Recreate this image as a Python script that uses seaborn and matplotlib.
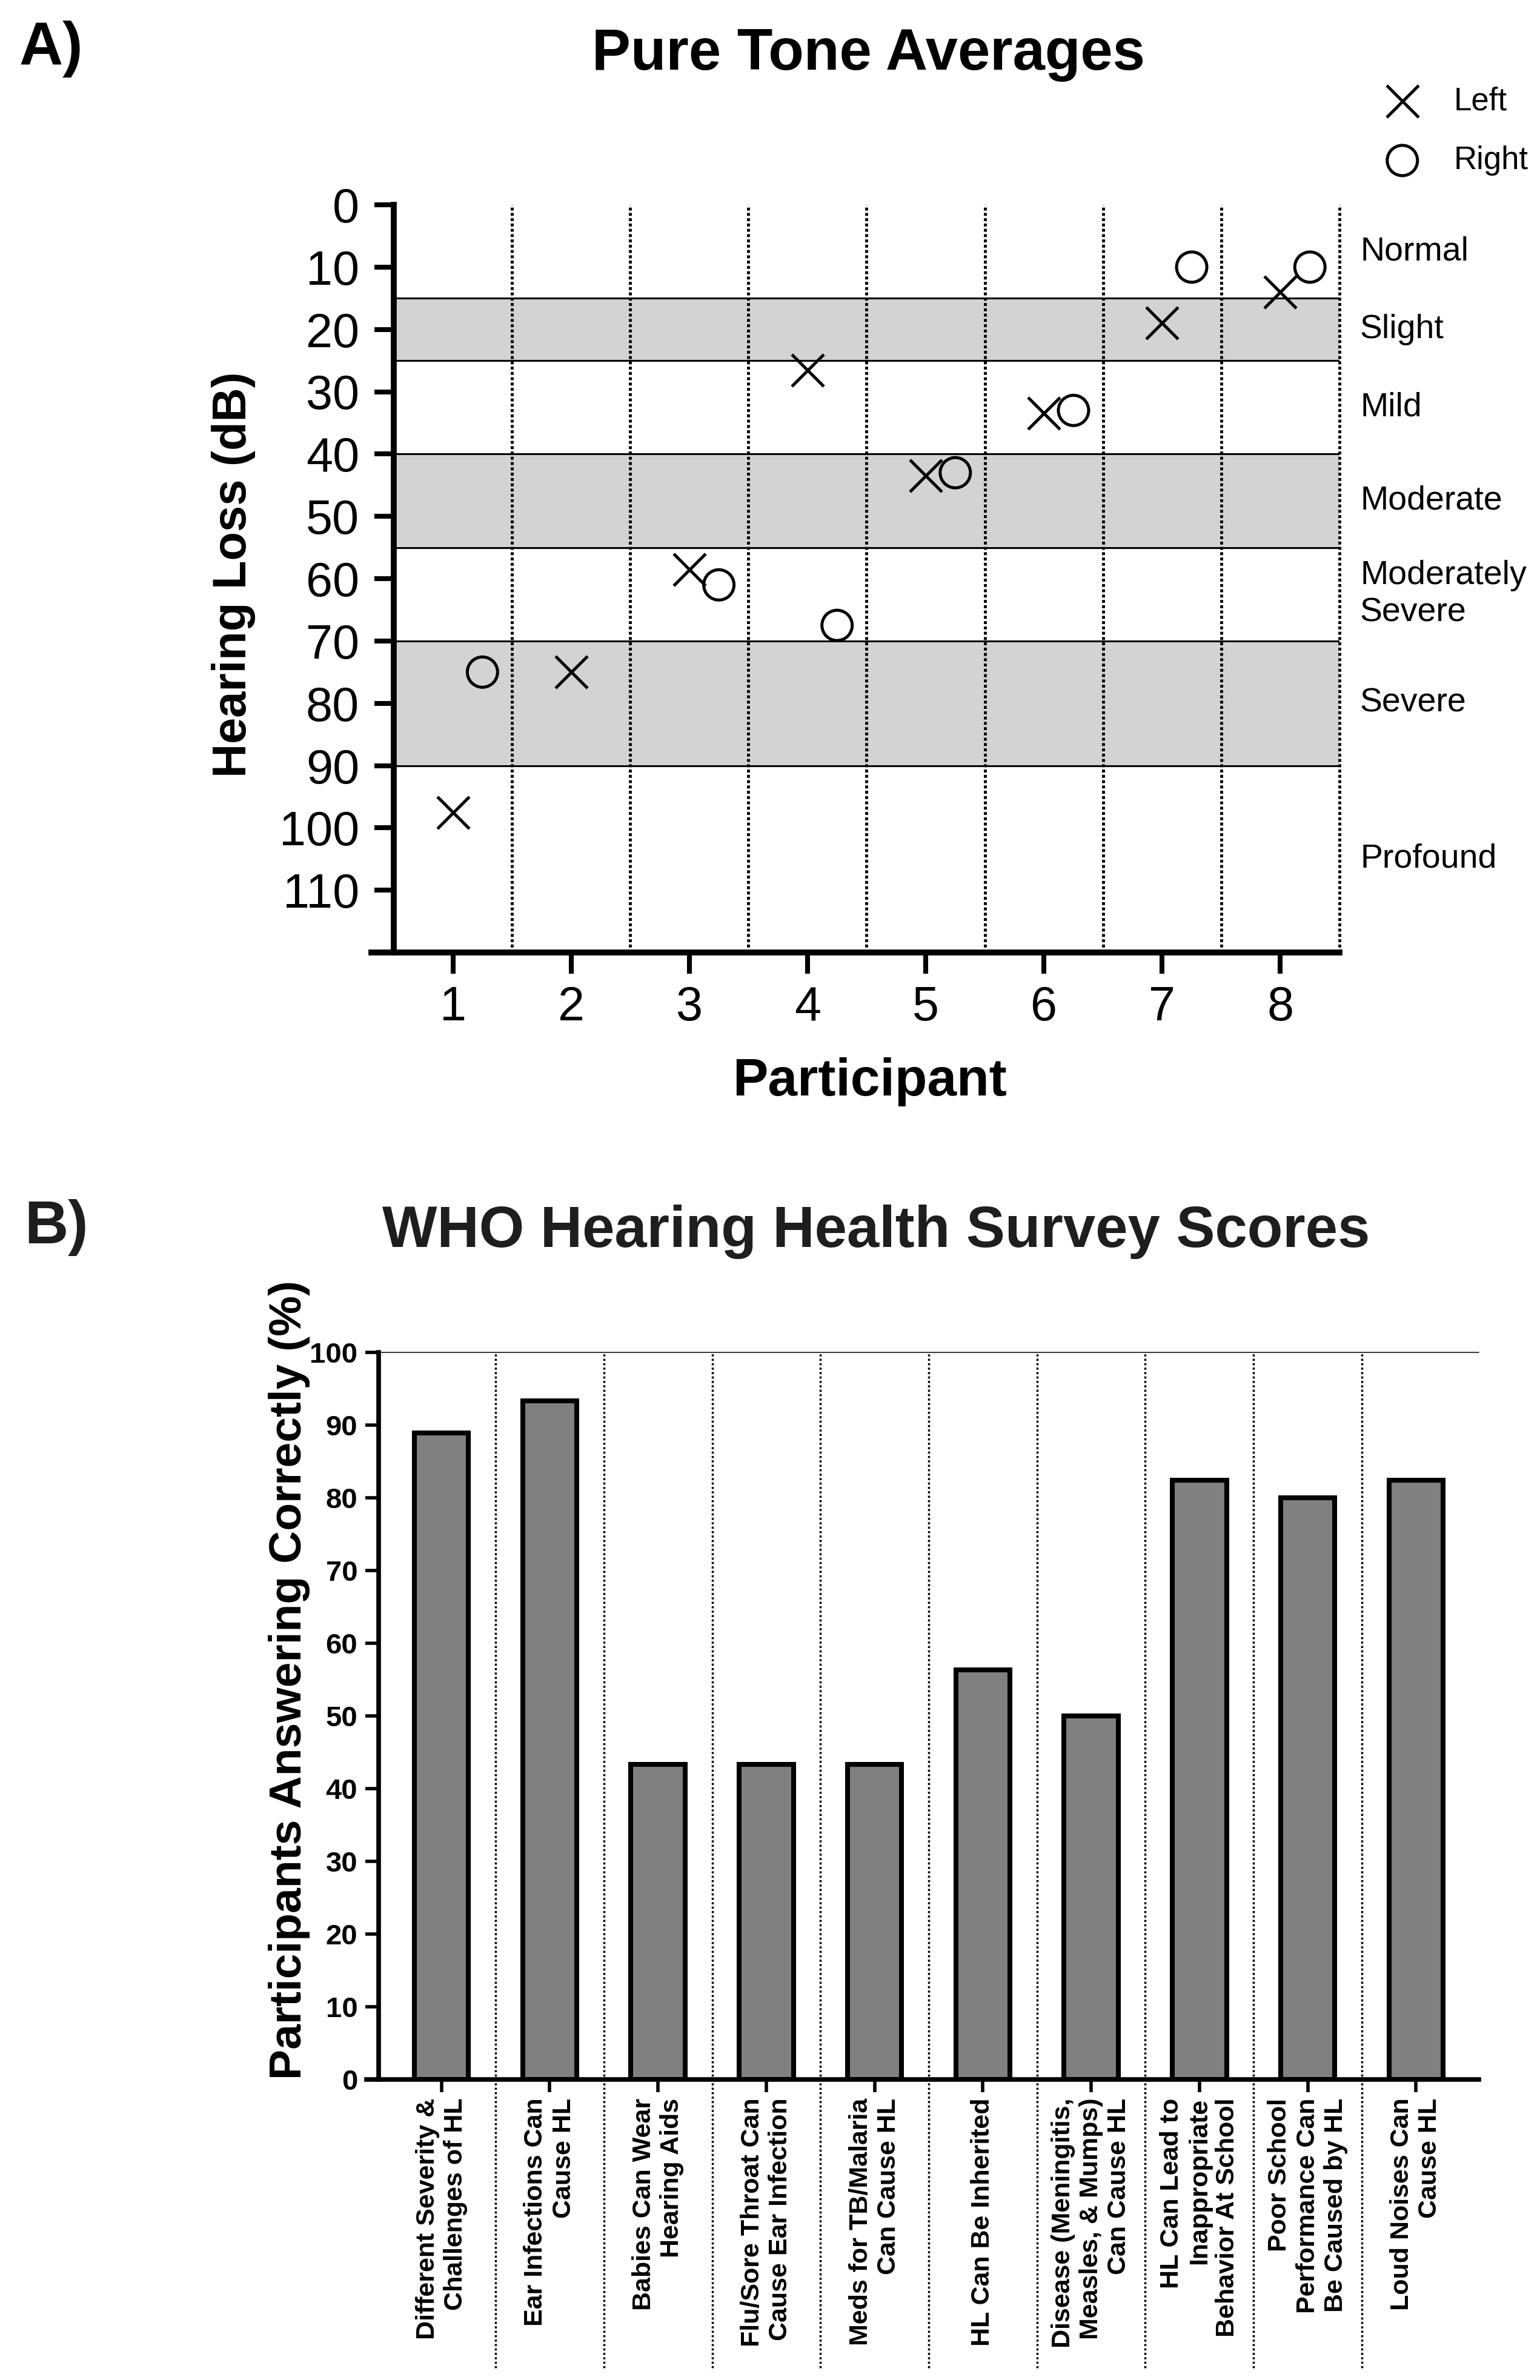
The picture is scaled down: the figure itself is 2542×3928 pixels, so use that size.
import numpy as np
import matplotlib.pyplot as plt
import matplotlib.transforms as mtransforms
import seaborn as sns

sns.set_theme(style='ticks')
plt.rcParams['font.family'] = ['Liberation Sans', 'DejaVu Sans']
for k in ['text.color', 'axes.labelcolor', 'xtick.color', 'ytick.color', 'axes.edgecolor']:
    plt.rcParams[k] = 'black'

# ---- data: panel A (pure tone averages, dB HL) ----
participants = [1, 2, 3, 4, 5, 6, 7, 8]
left_db = [97.5, 75, 58.5, 26.5, 43.5, 33.5, 19, 14]
right_participants = [1, 3, 4, 5, 6, 7, 8]
right_db = [75, 61, 67.5, 43, 33, 10, 10]
band_names = ['Normal', 'Slight', 'Mild', 'Moderate', 'Moderately\nSevere', 'Severe', 'Profound']
band_edges = [0, 15, 25, 40, 55, 70, 90, 120]
db_ticks = [0, 10, 20, 30, 40, 50, 60, 70, 80, 90, 100, 110]

# ---- data: panel B (survey, % correct) ----
questions = ['Different Severity &\nChallenges of HL',
             'Ear Infections Can\nCause HL',
             'Babies Can Wear\nHearing Aids',
             'Flu/Sore Throat Can\nCause Ear Infection',
             'Meds for TB/Malaria\nCan Cause HL',
             'HL Can Be Inherited',
             'Disease (Meningitis,\nMeasles, & Mumps)\nCan Cause HL',
             'HL Can Lead to\nInappropriate\nBehavior At School',
             'Poor School\nPerformance Can\nBe Caused by HL',
             'Loud Noises Can\nCause HL']
pct_correct = [88.9, 93.3, 43.3, 43.3, 43.3, 56.3, 50.0, 82.4, 80.0, 82.4]
pct_ticks = [0, 10, 20, 30, 40, 50, 60, 70, 80, 90, 100]

W, H = 2542, 3928
fig = plt.figure(figsize=(W / 100, H / 100), dpi=100)

def fx(px): return px / W
def fy(py): return 1 - py / H

# ================= Panel A =================
ax1 = fig.add_axes([fx(650), fy(1572), fx(2211) - fx(650), fy(338) - fy(1572)])

for i, (lo, hi) in enumerate(zip(band_edges[:-1], band_edges[1:])):
    if i % 2 == 1:
        ax1.axhspan(lo, hi, color='#d3d3d3', lw=0, zorder=0)
for e in band_edges[1:-1]:
    ax1.axhline(e, color='black', lw=2.2, zorder=1)
for p in participants:
    ax1.axvline(p + 0.5, color='black', lw=3.5, ls=(0, (1, 0.8)), zorder=1, clip_on=False)

sns.scatterplot(x=participants, y=left_db, marker='x', s=38 ** 2, color='black',
                linewidth=3.6, ax=ax1, label='Left', zorder=3, clip_on=False)
sns.scatterplot(x=np.array(right_participants) + 0.25, y=right_db, marker='o', s=36 ** 2,
                facecolor='none', edgecolor='black', linewidth=3.6, ax=ax1,
                label='Right', zorder=3, clip_on=False)

ax1.set_xlim(0.5, 8.5)
ax1.set_ylim(120, 0)
ax1.set_xticks(participants)
ax1.set_yticks(db_ticks)
ax1.set_xlabel('')
ax1.set_ylabel('')
ax1.tick_params(axis='x', length=25, width=5.8, labelsize=57, pad=14)
ax1.tick_params(axis='y', length=23, width=5.8, labelsize=57, pad=18)
sns.despine(ax=ax1)
for s in ['left', 'bottom']:
    ax1.spines[s].set_linewidth(7)
ax1.spines['bottom'].set_bounds(0.31, 8.5)

trans = mtransforms.blended_transform_factory(ax1.transAxes, ax1.transData)
for name, lo, hi in zip(band_names, band_edges[:-1], band_edges[1:]):
    ax1.text(1.0218, (lo + hi) / 2, name, transform=trans, ha='left', va='center',
             fontsize=40, linespacing=1.22)

ax1.legend(loc='center left', bbox_to_anchor=(fx(2262), fy(216)), bbox_transform=fig.transFigure,
           frameon=False, fontsize=38, borderpad=0, handlelength=1.0, handletextpad=1.1,
           labelspacing=0.9)

fig.text(fx(385), fy(948), 'Hearing Loss (dB)', rotation=90, ha='center', va='center',
         fontsize=56, fontweight='bold')
fig.text(fx(1436), fy(1808), 'Participant', ha='center', va='baseline',
         fontsize=63, fontweight='bold')
fig.text(fx(1433), fy(115), 'Pure Tone Averages', ha='center', va='baseline',
         fontsize=69, fontweight='bold')
fig.text(fx(32), fy(107), 'A)', ha='left', va='baseline', fontsize=72, fontweight='bold')

# ================= Panel B =================
ax2 = fig.add_axes([fx(625), fy(3432), fx(2441) - fx(625), fy(2232) - fy(3432)])

sns.barplot(x=questions, y=pct_correct, color='#808080', saturation=1, edgecolor='black',
            linewidth=5.8, width=0.5, ax=ax2, zorder=3)

ax2.set_xlim(-0.58, len(questions) - 0.42)
ax2.set_ylim(0, 100)
ax2.set_yticks(pct_ticks)
ax2.axhline(100, color='black', lw=1.1, clip_on=False)
vtrans = mtransforms.blended_transform_factory(ax2.transData, ax2.transAxes)
for i in range(len(questions) - 1):
    ax2.plot([i + 0.5, i + 0.5], [-0.397, 1.0], transform=vtrans, color='black', lw=2.5,
             ls=(0, (1, 1.1)), clip_on=False, zorder=1)

ax2.set_xticks(range(len(questions)))
ax2.set_xticklabels(questions, rotation=90, fontsize=31, fontweight='bold', ha='center',
                    va='top', multialignment='right')
ax2.set_xlabel('')
ax2.set_ylabel('')
for lab in ax2.get_yticklabels():
    lab.set_fontweight('bold')
ax2.tick_params(axis='x', length=15, width=4, pad=7)
ax2.tick_params(axis='y', length=16, width=4, labelsize=34, pad=9)
sns.despine(ax=ax2)
for s in ['left', 'bottom']:
    ax2.spines[s].set_linewidth(5.5)
ax2.spines['bottom'].set_bounds(-0.69, len(questions) - 0.42)

fig.text(fx(478), fy(2773), 'Participants Answering Correctly (%)', rotation=90,
         ha='center', va='center', fontsize=54, fontweight='bold')
fig.text(fx(1446), fy(2058), 'WHO Hearing Health Survey Scores', ha='center', va='baseline',
         fontsize=69, fontweight='bold', color='#1e1e1e')
fig.text(fx(40), fy(2052), 'B)', ha='left', va='baseline', fontsize=72, fontweight='bold',
         color='#1e1e1e')

fig.savefig('out.png', dpi=100)
